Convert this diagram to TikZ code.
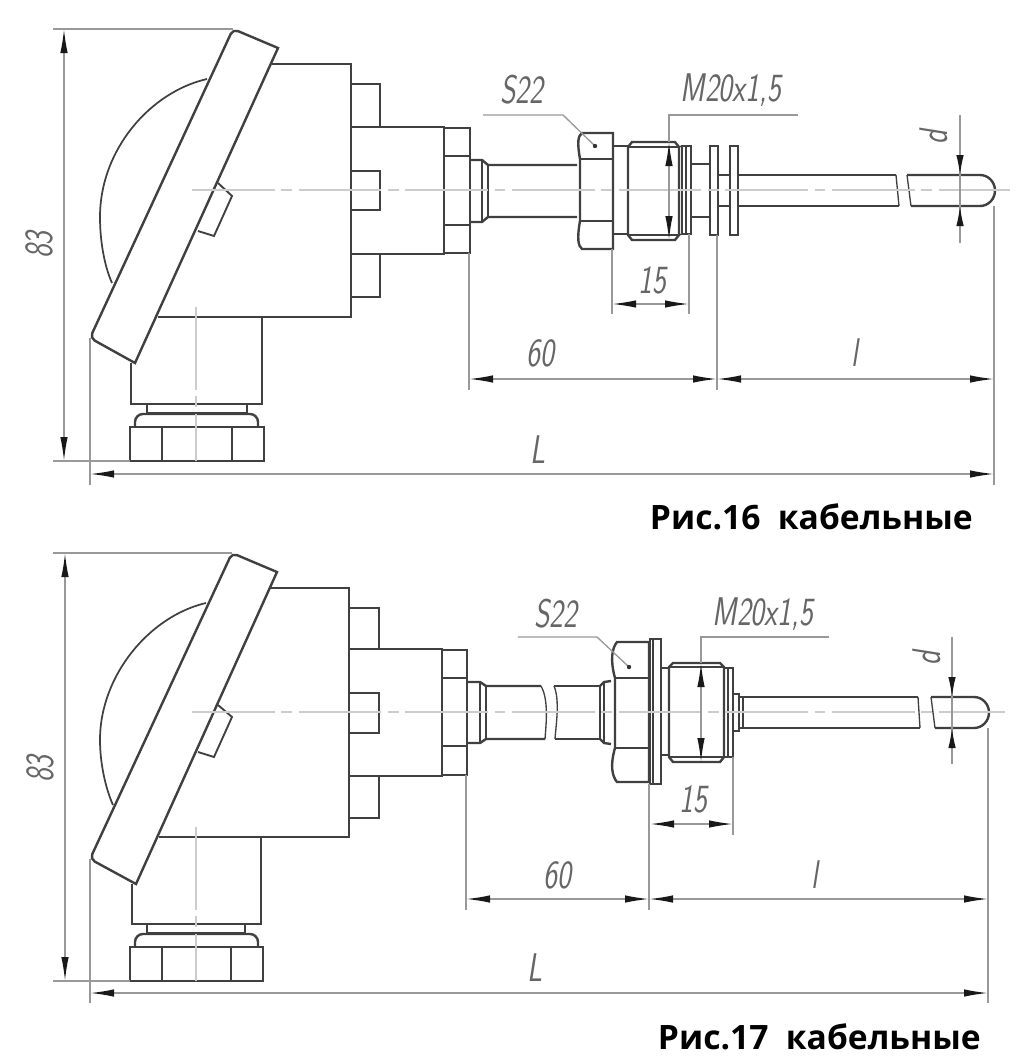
\documentclass[tikz,border=0pt]{standalone}
\usepackage{fontspec}
\setmainfont{Open Sans}
\usetikzlibrary{arrows.meta}
\definecolor{inkline}{gray}{0.25}
\definecolor{dimgray}{gray}{0.6}
\newcommand{\dimtext}[1]{\scalebox{0.74}[1]{\sffamily\itshape #1}}
\begin{document}
\begin{tikzpicture}[
    x=0.75pt, y=-0.75pt,
    part/.style={draw=inkline, line width=1.8pt, line join=miter},
    thinpart/.style={draw=inkline, line width=1pt},
    centerline/.style={draw=black!20, line width=1pt, dash pattern=on 62pt off 5pt on 8pt off 5pt},
    dimline/.style={draw=dimgray, line width=1pt},
    dimarrow/.style={draw=dimgray, line width=1.1pt, {Latex[length=18pt,width=5.6pt,black!90]}-{Latex[length=18pt,width=5.6pt,black!90]}},
    headtip/.style={draw=dimgray, line width=1pt, -{Latex[length=15pt,width=5.6pt,black!90]}},
    dimlabel/.style={font=\fontsize{30}{30}\selectfont, text=black!60, inner sep=0pt},
    caption/.style={font=\fontsize{25.2}{28}\selectfont\bfseries, text=black, inner sep=0pt}
]
\useasboundingbox (0,0) rectangle (1027,1060);

% === FIG 16 (top) ===
% housing
\draw[part] (272,64) -- (351,64) -- (351,317) -- (158,317);
\draw[part] (351,84) -- (380,84) -- (380,127);
\draw[part] (351,171) -- (380,171) -- (380,210) -- (351,210);
\draw[part] (380,255) -- (380,297) -- (351,297);
\draw[part] (351,127) -- (444,127) -- (444,254) -- (351,254);
\draw[part] (444,128) rectangle (470,253);
\draw[part] (444,156) -- (470,156);
\draw[part] (444,225) -- (470,225);

% dome and lid
\draw[part, line width=1.3pt] (207,79) .. controls (150,92) and (100,150) .. (100,217) .. controls (100,240) and (104,265) .. (112,283);
\draw[part, fill=white] (278,48) -- (135,363) [rounded corners=4pt] -- (90,338) -- (233,29) [sharp corners] -- cycle;
\draw[part, line width=1.4pt] (218,183) -- (232,196) -- (214,236) -- (198,231);

% lower gland
\draw[part] (262,317) -- (262,404) -- (131,404) -- (131,363);
\draw[part] (147,404) -- (147,413);
\draw[part] (247,404) -- (247,413);
\draw[part] (147,413) -- (247,413);
\draw[part, rounded corners=6pt] (135,427) -- (135,414) -- (258,414) -- (258,427);
\draw[part] (130,427) rectangle (264,461);
\draw[part] (162,427) -- (162,461);
\draw[part] (232,427) -- (232,461);

% stem and fitting
\draw[part] (470,160) -- (482,160) -- (488,165) -- (577,165);
\draw[part] (470,222) -- (482,222) -- (488,217) -- (577,217);
\draw[part] (482,160) -- (482,222);
\draw[part] (488,165) -- (488,217);
\draw[part] (613,133) -- (582,133) .. controls (578,136) and (577,142) .. (580,159) -- (580,221) .. controls (577,238) and (578,246) .. (582,249) -- (613,249) -- cycle;
\draw[part] (580,159) -- (613,159);
\draw[part] (580,221) -- (613,221);
\draw[part] (613,146) rectangle (628,234);
\draw[part] (628,147) -- (632,142) -- (675,142) -- (679,147) -- (679,235) -- (675,240) -- (632,240) -- (628,235) -- cycle;
\draw[thinpart] (628,147) -- (679,147);
\draw[thinpart] (628,235) -- (679,235);
\draw[part] (682,146) rectangle (691,234);
\draw[thinpart] (679,147) -- (682,146);
\draw[thinpart] (679,235) -- (682,234);
\draw[thinpart] (686,146) -- (686,234);
\draw[part] (691,164) -- (710,164);
\draw[part] (691,217) -- (710,217);
\draw[part] (710,146) rectangle (718,235);
\draw[part] (718,175) -- (730,175);
\draw[part] (718,206) -- (730,206);
\draw[part] (730,146) rectangle (738,235);
\draw[part] (738,175) -- (896,175);
\draw[part] (738,206) -- (899,206);
\draw[thinpart] (896,175) -- (899,206);
\draw[thinpart] (907,175) -- (911,206);
\draw[part] (907,175) -- (980,175) arc[start angle=-90, end angle=90, x radius=15, y radius=15.5] -- (911,206);

% center lines
\draw[centerline] (192,190) -- (1010,190);
\draw[centerline] (196,307) -- (196,461);

% leaders
\draw[dimline] (483,115) -- (563,115) -- (595,146);
\fill[black!80] (595,146) circle (2.2);
\draw[dimline] (798,115) -- (669,115) -- (669,142);
\draw[dimarrow] (669,142) -- (669,240);

% dimensions
\draw[dimline] (53,29) -- (233,29);
\draw[dimline] (53,461) -- (130,461);
\draw[dimarrow] (64,29) -- (64,461);
\node[dimlabel, rotate=90] (sizeA) at (39,245) {\dimtext{83}};
\draw[dimline] (90,338) -- (90,485);
\draw[dimline] (994,206) -- (994,485);
\draw[dimarrow] (90,474) -- (994,474);
\node[dimlabel] (lenA) at (538,450) {\dimtext{L}};
\draw[dimline] (469,253) -- (469,390);
\draw[dimline] (717,235) -- (717,390);
\draw[dimarrow] (469,379) -- (717,379);
\draw[dimarrow] (717,379) -- (994,379);
\node[dimlabel] (stemA) at (540,353) {\dimtext{60}};
\node[dimlabel] (probeA) at (855,353) {\dimtext{l}};
\draw[dimline] (612,249) -- (612,314);
\draw[dimline] (689,234) -- (689,314);
\draw[dimarrow] (612,304) -- (689,304);
\node[dimlabel] (threadA) at (652,280) {\dimtext{15}};
\node[dimlabel] (keyA) at (522,90) {\dimtext{S22}};
\node[dimlabel] (portA) at (731,90) {\dimtext{M20x1,5}};
\draw[dimline] (960,115) -- (960,243);
\draw[headtip] (960,149) -- (960,175);
\draw[headtip] (960,233) -- (960,206);
\node[dimlabel, rotate=90] (diamA) at (934,137) {\dimtext{d}};
\node[caption, anchor=east] (titleA) at (973,517) {Рис.16\ \ кабельные};

% === FIG 17 (bottom) ===
% housing
\draw[part] (271,588) -- (349,588) -- (349,837) -- (159,837);
\draw[part] (349,608) -- (379,608) -- (379,649);
\draw[part] (349,693) -- (379,693) -- (379,733) -- (349,733);
\draw[part] (379,776) -- (379,818) -- (349,818);
\draw[part] (349,649) -- (442,649) -- (442,776) -- (349,776);
\draw[part] (442,650) rectangle (467,775);
\draw[part] (442,678) -- (467,678);
\draw[part] (442,746) -- (467,746);

% dome and lid
\draw[part, line width=1.3pt] (206,603) .. controls (150,616) and (100,675) .. (100,740) .. controls (100,762) and (105,787) .. (113,805);
\draw[part, fill=white] (277,572) -- (136,884) [rounded corners=4pt] -- (90,859) -- (232,553) [sharp corners] -- cycle;
\draw[part, line width=1.4pt] (218,705) -- (232,717) -- (214,757) -- (198,752);

% lower gland
\draw[part] (261,837) -- (261,924) -- (132,924) -- (132,884);
\draw[part] (147,924) -- (147,933);
\draw[part] (245,924) -- (245,933);
\draw[part] (147,933) -- (245,933);
\draw[part, rounded corners=6pt] (135,947) -- (135,934) -- (258,934) -- (258,947);
\draw[part] (130,947) rectangle (263,981);
\draw[part] (162,947) -- (162,981);
\draw[part] (231,947) -- (231,981);

% stem and fitting
\draw[part] (467,682) -- (480,682) -- (486,686) -- (541,686);
\draw[part] (467,743) -- (480,743) -- (486,739) -- (545,739);
\draw[part] (480,682) -- (480,743);
\draw[part] (486,686) -- (486,739);
\draw[thinpart] (541,686) .. controls (549,700) and (546,725) .. (545,739);
\draw[thinpart] (554,686) .. controls (560,700) and (556,725) .. (555,739);
\draw[part] (554,686) -- (600,686);
\draw[part] (555,739) -- (600,739);
\draw[part] (600,686) -- (604,682) -- (611,681);
\draw[part] (600,739) -- (604,743) -- (611,744);
\draw[part] (600,686) -- (600,739);
\draw[thinpart] (604,682) -- (604,743);
\draw[part] (649,642) -- (617,642) .. controls (612,648) and (610,660) .. (615,678) -- (615,748) .. controls (610,765) and (612,776) .. (617,782) -- (649,782) -- cycle;
\draw[part] (615,678) -- (649,678);
\draw[part] (615,748) -- (649,748);
\draw[part] (650,639) rectangle (661,784);
\draw[part] (653,639) -- (653,784);
\draw[part] (661,668) rectangle (669,755);
\draw[part] (669,667) -- (673,663) -- (720,663) -- (724,667) -- (724,757) -- (720,762) -- (673,762) -- (669,757) -- cycle;
\draw[thinpart] (669,667) -- (724,667);
\draw[thinpart] (669,757) -- (724,757);
\draw[part] (724,668) rectangle (733,757);
\draw[thinpart] (728,668) -- (728,757);
\draw[part] (733,694) rectangle (739,731);
\draw[part] (739,697) rectangle (743,728);
\draw[part] (743,697) -- (918,697);
\draw[part] (743,728) -- (920,728);
\draw[thinpart] (918,697) -- (920,728);
\draw[thinpart] (931,697) -- (935,728);
\draw[part] (931,697) -- (974,697) arc[start angle=-90, end angle=90, x radius=15, y radius=15.5] -- (935,728);

% center lines
\draw[centerline] (192,712) -- (1005,712);
\draw[centerline] (196,827) -- (196,981);

% leaders
\draw[dimline] (518,637) -- (597,637) -- (629,667);
\fill[black!80] (629,667) circle (2.2);
\draw[dimline] (829,637) -- (701,637) -- (701,663);
\draw[dimarrow] (701,663) -- (701,762);

% dimensions
\draw[dimline] (53,553) -- (232,553);
\draw[dimline] (53,981) -- (130,981);
\draw[dimarrow] (65,553) -- (65,981);
\node[dimlabel, rotate=90] (sizeB) at (40,769) {\dimtext{83}};
\draw[dimline] (90,859) -- (90,1003);
\draw[dimline] (988,728) -- (988,1003);
\draw[dimarrow] (90,993) -- (988,993);
\node[dimlabel] (lenB) at (535,968) {\dimtext{L}};
\draw[dimline] (466,775) -- (466,910);
\draw[dimline] (649,784) -- (649,910);
\draw[dimarrow] (466,899) -- (649,899);
\draw[dimarrow] (649,899) -- (988,899);
\node[dimlabel] (stemB) at (557,875) {\dimtext{60}};
\node[dimlabel] (probeB) at (815,875) {\dimtext{l}};
\draw[dimline] (733,757) -- (733,835);
\draw[dimarrow] (650,824) -- (733,824);
\node[dimlabel] (threadB) at (693,799) {\dimtext{15}};
\node[dimlabel] (keyB) at (556,614) {\dimtext{S22}};
\node[dimlabel] (portB) at (763,614) {\dimtext{M20x1,5}};
\draw[dimline] (952,637) -- (952,764);
\draw[headtip] (952,673) -- (952,697);
\draw[headtip] (952,753) -- (952,728);
\node[dimlabel, rotate=90] (diamB) at (927,658) {\dimtext{d}};
\node[caption, anchor=east] (titleB) at (981,1037) {Рис.17\ \ кабельные};

\end{tikzpicture}
\end{document}
